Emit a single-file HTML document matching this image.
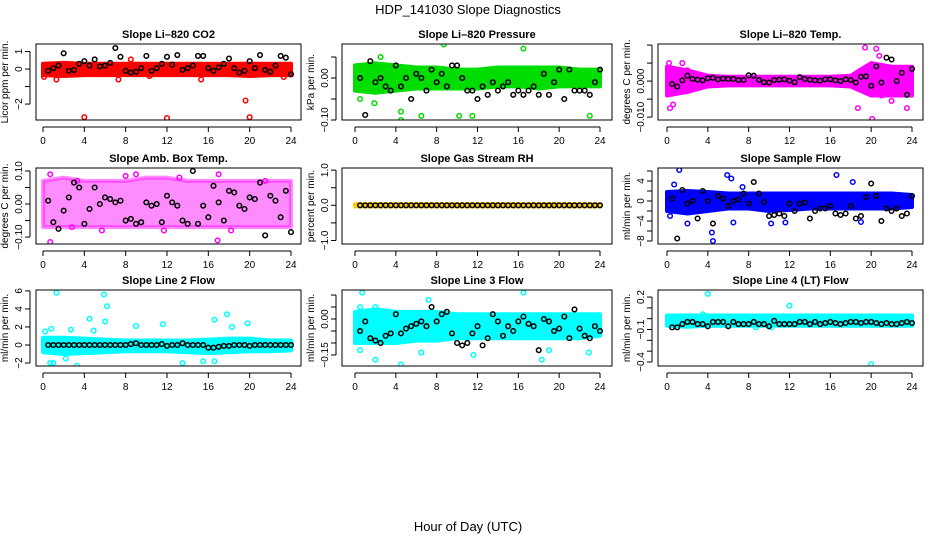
<!DOCTYPE html>
<html><head><meta charset="utf-8"><style>
body{margin:0;background:#fff}
svg{display:block;font-family:"Liberation Sans",Arial,sans-serif}
</style></head><body>
<svg id="chart" width="936" height="540" viewBox="0 0 936 540">
<text x="468" y="14" text-anchor="middle" font-size="13">HDP_141030  Slope Diagnostics</text>
<text x="468" y="531" text-anchor="middle" font-size="13">Hour of Day (UTC)</text>
</svg>
<script>
const xTicks=[0,4,8,12,16,20,24];
const blackHours=[];for(let i=1;i<=48;i++)blackHours.push(i*0.5);
const bandHours=[0,2,4,6,8,10,12,14,16,18,20,22,24];

const co2Black=[-0.1,0.05,0.2,0.9,-0.1,-0.05,0.3,0.45,0.2,0.55,0.15,0.2,0.35,1.2,0.7,-0.1,-0.2,-0.15,0.05,0.75,-0.1,0.05,0.3,0.7,0.25,0.8,-0.05,0.05,0.2,0.75,0.75,0.05,-0.1,0.1,0.3,0.6,0.05,-0.2,-0.1,0.45,0.05,0.8,-0.05,-0.15,0.2,0.75,0.65,-0.3];
const co2OutH=[0.1,1.3,4.0,8.5,12.0,15.3,19.6,20.0,7.3,23.3,10.3];
const co2OutV=[-0.45,-0.6,-2.75,0.55,-2.8,-0.6,-1.8,-2.75,-0.6,-0.45,-0.4];
const co2Lo=[-0.35,-0.4,-0.35,-0.35,-0.35,-0.35,-0.35,-0.35,-0.35,-0.35,-0.4,-0.35,-0.35];
const co2Hi=[0.3,0.35,0.3,0.3,0.3,0.3,0.3,0.3,0.3,0.3,0.3,0.3,0.3];

const presBlack=[0,-0.088,0.04,-0.01,0,-0.02,-0.03,0.03,-0.02,0,-0.05,0.01,0,-0.03,0.02,-0.01,0.01,-0.02,0.03,0.03,0,-0.03,-0.03,-0.05,-0.02,-0.04,-0.01,-0.03,-0.02,-0.01,-0.04,-0.03,-0.04,-0.03,-0.02,-0.04,0.01,-0.04,-0.01,0.02,-0.05,0.02,-0.03,-0.03,-0.03,-0.04,-0.01,0.02];
const presOutH=[1.2,0.5,1.9,4.5,4.5,5.9,6.3,6.5,8.7,16.6,16.5,23,10.2,11.5,2.5,19.7];
const presOutV=[0.15,-0.05,-0.06,-0.08,-0.1,0.12,0.09,-0.09,0.08,0.11,0.07,-0.09,-0.09,-0.09,0.05,0.09];
const presLo=[-0.03,-0.035,-0.03,-0.025,-0.025,-0.025,-0.025,-0.02,-0.02,-0.025,-0.02,-0.02,-0.02];
const presHi=[0.03,0.035,0.03,0.025,0.025,0.02,0.02,0.025,0.025,0.025,0.025,0.02,0.02];

const tempBlack=[-0.0008,-0.0015,0.0002,0.0015,0.0006,0.0004,0.0002,0.0008,0.0009,0.0005,0.0007,0.0006,0.0006,0.0003,0.0003,0.0016,0.0015,0.0003,-0.0003,-0.0004,0.0003,0.0004,0.0005,0.0001,-0.0003,0.0011,0.0006,0.0004,0.0002,0.0001,0.0005,0.0005,0.0002,0,0.0005,0.0003,-0.0004,0.0012,0.0013,-0.0013,0.0041,-0.0004,0.0065,0.006,0,0.0023,-0.0038,0.0034];
const tempOutH=[0.3,0.6,1.5,19.4,20.5,20.1,18.7,21,23.5,22,0.2,2,20.8];
const tempOutV=[-0.0075,-0.0065,0.005,0.0093,0.009,-0.0105,-0.0075,-0.004,-0.0075,-0.0055,0.005,0.003,0.007];
const tempLo=[-0.004,-0.003,-0.0015,-0.0012,-0.0012,-0.0012,-0.0012,-0.0012,-0.0012,-0.0015,-0.004,-0.004,-0.004];
const tempHi=[0.004,0.003,0.0015,0.0012,0.0012,0.0012,0.0012,0.0012,0.0012,0.0015,0.005,0.004,0.004];

const ambBlack=[0.01,-0.055,-0.075,-0.02,0.02,0.065,0.05,-0.06,-0.015,0.05,0,0.02,0.015,0.005,0.01,-0.05,-0.045,-0.06,-0.055,0.005,-0.005,0,-0.055,0.025,0.005,-0.005,-0.05,-0.06,0.1,-0.06,-0.005,-0.04,0.055,0.005,-0.05,0.04,0.035,-0.005,-0.015,0.02,0.015,0.065,-0.095,0.025,0.01,-0.04,0.04,-0.085];
const ambOutH=[0.7,0.7,8,17,16.9,18.2,5.7,11.7,9,3.3,13.2,21.5,2.8];
const ambOutV=[-0.115,0.09,0.085,0.09,-0.11,-0.08,-0.08,-0.08,0.09,0.07,0.08,0.07,-0.07];
const ambLo=[-0.07,-0.07,-0.07,-0.07,-0.07,-0.07,-0.07,-0.07,-0.07,-0.07,-0.07,-0.07,-0.07];
const ambHi=[0.07,0.08,0.07,0.07,0.07,0.08,0.08,0.07,0.07,0.07,0.07,0.07,0.07];

const rhBlack=new Array(48).fill(0);
const rhOutH=[];const rhOutV=[];
const rhLo=[-0.03,-0.03,-0.03,-0.03,-0.03,-0.03,-0.03,-0.03,-0.03,-0.03,-0.03,-0.03,-0.03];
const rhHi=[0.03,0.03,0.03,0.03,0.03,0.03,0.03,0.03,0.03,0.03,0.03,0.03,0.03];

const flowBlack=[0.5,-7.5,2.2,-0.5,0,-3.5,2,0,-4.5,1,0.5,-1,0,0.3,1.5,-0.5,3.8,1.5,-0.2,-3,-2.8,-2.5,-3,-0.5,-2,-0.5,-0.3,-3.5,-2,-1.5,-1.5,-1,-2.5,-2.8,-2.5,-1,-3.5,-3,0.8,3.5,1,-4,-1.5,-2,-1.5,-3,-2.5,1];
const flowOutH=[1.2,5.9,6.3,4.4,4.5,2,6.5,10.2,16.6,18.2,0.3,11.6,19,0.7,7.4];
const flowOutV=[6.2,5.2,4.5,-6.3,-8,-4.5,-4.3,-4.5,5.2,3.8,-3,-4.3,-4.2,3.3,2.8];
const flowLo=[-2,-2.5,-2,-1.5,-1.5,-2,-1.8,-1.5,-1.5,-1.5,-1.5,-1.5,-1.2];
const flowHi=[1.8,2,1.8,1.5,1.5,1.5,1.5,1.5,1.5,1.5,1.5,1.5,1.2];

const l2Black=[0,0,0,0,0,0,0,0,0,0,0,0,0,0,0,0,0.1,0.2,0,0,0,0,0.1,-0.1,0,0,0.2,0,0,0,0,-0.3,-0.3,-0.2,-0.1,-0.1,0,0,0,-0.1,0,0,0,0,0,0,0,0];
const l2OutH=[1.3,5.9,6.2,4.5,4.9,9,11.6,16.6,17.8,18.3,19.8,3.3,0.7,1,13.5,2.2,15.5,0.2,2.7,0.8,6,16.6];
const l2OutV=[5.8,5.6,4.3,2.9,1.6,2.1,2.3,2.8,3.4,2,2.4,-2.3,-2,-2,-2,-1.5,-1.8,1.5,1.7,1.8,2.6,-1.8];
const l2Lo=[-0.8,-1,-0.9,-0.8,-0.7,-0.7,-0.7,-0.8,-0.9,-0.8,-0.7,-0.7,-0.6];
const l2Hi=[0.8,0.8,0.7,0.6,0.5,0.5,0.5,0.5,0.6,0.7,0.7,0.5,0.5];

const l3Black=[-0.05,-0.01,-0.08,-0.09,-0.1,-0.07,-0.06,0.02,-0.06,-0.04,-0.03,-0.02,-0.01,-0.03,0.05,-0.01,0.02,0.03,-0.06,-0.1,-0.11,-0.1,-0.06,-0.03,-0.11,-0.08,0.02,-0.01,-0.07,-0.03,-0.05,-0.01,0.01,-0.02,-0.03,-0.13,0,-0.01,-0.05,-0.04,0.01,-0.08,0.04,-0.04,-0.07,-0.08,-0.03,-0.05];
const l3OutH=[0.7,16.5,0.5,4.5,2,18.3,11.6,22.9,7.2,2,6.5,0.5,19];
const l3OutV=[0.11,0.11,0.05,-0.19,-0.17,-0.17,-0.15,-0.14,0.08,0.05,-0.14,-0.13,-0.13];
const l3Lo=[-0.1,-0.1,-0.1,-0.09,-0.09,-0.08,-0.08,-0.08,-0.08,-0.08,-0.08,-0.08,-0.07];
const l3Hi=[0.03,0.04,0.03,0.03,0.03,0.02,0.02,0.02,0.02,0.02,0.02,0.02,0.02];

const l4Black=[-0.08,-0.08,-0.05,-0.03,-0.03,-0.05,-0.05,-0.07,-0.03,-0.03,-0.03,-0.07,-0.03,-0.05,-0.05,-0.05,-0.03,-0.05,-0.05,-0.07,-0.02,-0.05,-0.05,-0.05,-0.05,-0.03,-0.03,-0.05,-0.03,-0.05,-0.04,-0.03,-0.04,-0.05,-0.04,-0.03,-0.03,-0.04,-0.03,-0.03,-0.04,-0.05,-0.04,-0.05,-0.05,-0.04,-0.03,-0.04];
const l4OutH=[4,12,20,3.5,8.7,10.2];
const l4OutV=[0.23,0.12,-0.42,0.04,-0.08,-0.08];
const l4Lo=[-0.065,-0.075,-0.065,-0.065,-0.065,-0.065,-0.065,-0.065,-0.065,-0.065,-0.065,-0.065,-0.065];
const l4Hi=[0.03,0.03,0.03,0.03,0.03,0.03,0.03,0.03,0.03,0.03,0.03,0.03,0.03];

const cols=[{l:36,r:301,x0:43,x24:291},{l:342,r:612,x0:355,x24:600},{l:658,r:923,x0:667,x24:912}];
const rows=[{t:44,b:120},{t:168,b:244},{t:290,b:366}];
const panels=[
 {name:'co2',title:'Slope Li–820 CO2',ylab:'Licor ppm per min.',col:'#ff0000',ymin:-2.91,ymax:1.43,ticks:[-2,-1,0,1],labs:['−2','','0','1'],black:co2Black,oh:co2OutH,ov:co2OutV,lo:co2Lo,hi:co2Hi,op:1},
 {name:'pressure',title:'Slope Li–820 Pressure',ylab:'kPa per min.',col:'#00dd00',ymin:-0.1,ymax:0.081,ticks:[-0.1,-0.05,0,0.05],labs:['−0.10','','0.00',''],black:presBlack,oh:presOutH,ov:presOutV,lo:presLo,hi:presHi,op:1},
 {name:'temp',title:'Slope Li–820 Temp.',ylab:'degrees C per min.',col:'#ff00ff',ymin:-0.0108,ymax:0.0103,ticks:[-0.01,-0.005,0,0.005,0.01],labs:['−0.010','','0.000','',''],black:tempBlack,oh:tempOutH,ov:tempOutV,lo:tempLo,hi:tempHi,op:1},
 {name:'amb-box-temp',title:'Slope Amb. Box Temp.',ylab:'degrees C per min.',col:'#ff00ff',ymin:-0.121,ymax:0.109,ticks:[-0.1,-0.05,0,0.05,0.1],labs:['−0.10','','0.00','','0.10'],black:ambBlack,oh:ambOutH,ov:ambOutV,lo:ambLo,hi:ambHi,op:0.45},
 {name:'gas-stream-rh',title:'Slope Gas Stream RH',ylab:'percent per min.',col:'#ffcc00',ymin:-1.1,ymax:1.06,ticks:[-1,-0.5,0,0.5,1],labs:['−1.0','','0.0','','1.0'],black:rhBlack,oh:rhOutH,ov:rhOutV,lo:rhLo,hi:rhHi,op:1},
 {name:'sample-flow',title:'Slope Sample Flow',ylab:'ml/min per min.',col:'#0000ff',ymin:-8.6,ymax:6.6,ticks:[-8,-6,-4,-2,0,2,4,6],labs:['−8','','−4','','0','','4',''],black:flowBlack,oh:flowOutH,ov:flowOutV,lo:flowLo,hi:flowHi,op:1},
 {name:'line2-flow',title:'Slope Line 2 Flow',ylab:'ml/min per min.',col:'#00ffff',ymin:-2.33,ymax:6.1,ticks:[-2,0,2,4,6],labs:['−2','0','2','4','6'],black:l2Black,oh:l2OutH,ov:l2OutV,lo:l2Lo,hi:l2Hi,op:1},
 {name:'line3-flow',title:'Slope Line 3 Flow',ylab:'ml/min per min.',col:'#00ffff',ymin:-0.196,ymax:0.121,ticks:[-0.15,-0.1,-0.05,0,0.05,0.1],labs:['−0.15','','','0.00','',''],black:l3Black,oh:l3OutH,ov:l3OutV,lo:l3Lo,hi:l3Hi,op:1},
 {name:'line4-flow',title:'Slope Line 4 (LT) Flow',ylab:'ml/min per min.',col:'#00ffff',ymin:-0.437,ymax:0.265,ticks:[-0.4,-0.3,-0.2,-0.1,0,0.1,0.2],labs:['−0.4','','','−0.1','','','0.2'],black:l4Black,oh:l4OutH,ov:l4OutV,lo:l4Lo,hi:l4Hi,op:1}
];
const NS='http://www.w3.org/2000/svg';
const svg=document.getElementById('chart');
function mk(tag,attrs,parent){const e=document.createElementNS(NS,tag);for(const k in attrs)e.setAttribute(k,attrs[k]);(parent||svg).appendChild(e);return e;}
panels.forEach((p,i)=>{
 const c=cols[i%3],r=rows[Math.floor(i/3)];
 const g=mk('g',{});
 
 
 const xs=h=>c.x0+(c.x24-c.x0)*h/24;
 const ys=v=>r.b-(v-p.ymin)/(p.ymax-p.ymin)*(r.b-r.t);
 const clip=mk('clipPath',{id:'clip'+i},g);
 mk('rect',{x:c.l,y:r.t,width:c.r-c.l,height:r.b-r.t},clip);
 const plot=mk('g',{'clip-path':'url(#clip'+i+')'},g);
 let pts=bandHours.map((h,k)=>xs(h)+','+ys(p.hi[k]));
 pts=pts.concat(bandHours.slice().reverse().map((h,k)=>xs(h)+','+ys(p.lo[bandHours.length-1-k])));
 const band=mk('polygon',{points:pts.join(' '),fill:p.col,'fill-opacity':p.op,stroke:p.col,'stroke-width':4,'stroke-linejoin':'round','stroke-opacity':p.op},plot);
 
 
 p.oh.forEach((h,k)=>{
  const o=mk('circle',{cx:xs(h),cy:ys(p.ov[k]),r:2.3,fill:'none',stroke:p.col,'stroke-width':1.5},plot);
  
  
 });
 p.black.forEach((v,k)=>{
  const o=mk('circle',{cx:xs(blackHours[k]),cy:ys(v),r:2.3,fill:'none',stroke:'#000','stroke-width':1.5},plot);
  
  
 });
 const box=mk('rect',{x:c.l,y:r.t,width:c.r-c.l,height:r.b-r.t,fill:'none',stroke:'#000','stroke-width':1},g);
 
 
 const t=mk('text',{x:(c.l+c.r)/2,y:r.t-6,'text-anchor':'middle','font-size':11,'font-weight':'bold'},g);
 t.textContent=p.title;
 
 
 const xa=mk('g',{},g);
 
 
 mk('line',{x1:xs(0),x2:xs(24),y1:r.b+7,y2:r.b+7,stroke:'#000'},xa);
 xTicks.forEach(h=>{
  mk('line',{x1:xs(h),x2:xs(h),y1:r.b+7,y2:r.b+12,stroke:'#000'},xa);
  const l=mk('text',{x:xs(h),y:r.b+24,'text-anchor':'middle','font-size':10},xa);l.textContent=h;
 });
 const ya=mk('g',{},g);
 
 
 const ax=c.l-6;
 mk('line',{x1:ax,x2:ax,y1:ys(p.ticks[0]),y2:ys(p.ticks[p.ticks.length-1]),stroke:'#000'},ya);
 p.ticks.forEach((v,k)=>{
  mk('line',{x1:ax,x2:ax-5,y1:ys(v),y2:ys(v),stroke:'#000'},ya);
  if(p.labs[k]){const l=mk('text',{x:ax-8,y:ys(v),'text-anchor':'middle','font-size':10,transform:'rotate(-90 '+(ax-8)+' '+ys(v)+')'},ya);l.textContent=p.labs[k];}
 });
 const yl=mk('text',{x:0,y:0,'text-anchor':'middle','font-size':10,transform:'translate('+(ax-22)+','+((r.t+r.b)/2)+') rotate(-90)'},ya);
 yl.textContent=p.ylab;
 
 
});
</script>
</body></html>
